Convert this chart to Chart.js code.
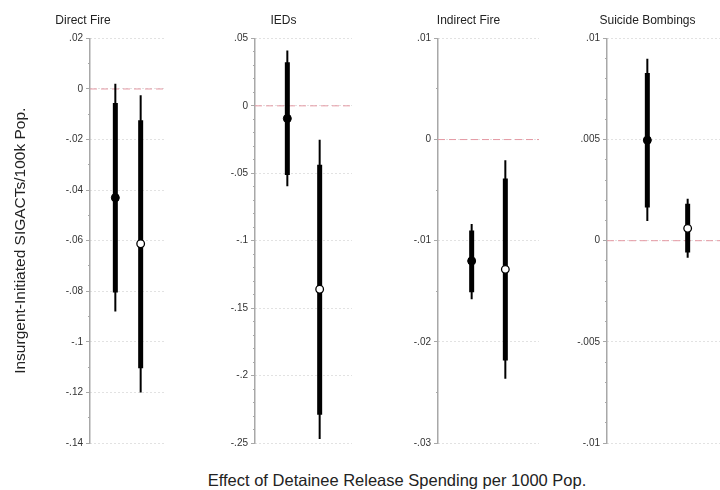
<!DOCTYPE html>
<html>
<head>
<meta charset="utf-8">
<script src="https://cdn.jsdelivr.net/npm/chart.js@4"></script>
<style>
html, body { margin: 0; padding: 0; width: 720px; height: 490px; overflow: hidden; background: #fff; }
canvas { position: absolute; top: 0; }
#xtitle { position: absolute; left: 0; width: 794px; top: 471px; text-align: center;
  font: 16.5px "Liberation Sans", Arial, sans-serif; color: #222; white-space: nowrap; }
</style>
</head>
<body>
<div id="xtitle">Effect of Detainee Release Spending per 1000 Pop.</div>
<script>
// values
const panels = ['Direct Fire', 'IEDs', 'Indirect Fire', 'Suicide Bombings'];
const estFilled = [-0.043, -0.0094, -0.0120, 0.00497];
const estHollow = [-0.0612, -0.136, -0.01283, 0.00061];
const ci90Filled = [[-0.0805, -0.0055], [-0.0513, 0.0323], [-0.0151, -0.0090], [0.00164, 0.00829]];
const ci95Filled = [[-0.088, 0.0021], [-0.0597, 0.041], [-0.0158, -0.00836], [0.00097, 0.0090]];
const ci90Hollow = [[-0.1104, -0.0124], [-0.229, -0.0437], [-0.02184, -0.00385], [-0.00058, 0.00183]];
const ci95Hollow = [[-0.120, -0.0025], [-0.247, -0.0252], [-0.02365, -0.00204], [-0.00084, 0.00207]];
const yMin = [-0.14, -0.25, -0.03, -0.01];
const yMax = [0.02, 0.05, 0.01, 0.01];
const majorStep = [0.02, 0.05, 0.01, 0.005];
const minorStep = [0.01, 0.01, 0.005, 0.001];

// layout
const plotLeft = [90, 255, 438, 607];
const plotRight = [166, 352, 539, 728];
const axisW = [90, 40, 40, 40];
const FONT = '"Liberation Sans", Arial, sans-serif';

function isMajor(v, i) {
  const r = v / majorStep[i];
  return Math.abs(r - Math.round(r)) < 1e-6;
}

function fmt(v) {
  let s = parseFloat(v.toFixed(6)).toString();
  if (s === '0' || s === '-0') return '0';
  return s.replace('0.', '.');
}

function seg(x, range, w) {
  return {
    data: [{x: x, y: range[0]}, {x: x, y: range[1]}],
    showLine: true, pointRadius: 0, borderColor: '#000', borderWidth: w,
    borderCapStyle: 'butt', order: 1
  };
}

for (let i = 0; i < panels.length; i++) {
  const cv = document.createElement('canvas');
  const left = plotLeft[i] - axisW[i];
  cv.width = plotRight[i] - left;
  cv.height = 490;
  cv.style.left = left + 'px';
  document.body.appendChild(cv);

  const datasets = [
    {data: [{x: 1, y: estFilled[i]}], pointRadius: 4, backgroundColor: '#000', borderColor: '#000', borderWidth: 1, order: 0},
    {data: [{x: 2, y: estHollow[i]}], pointRadius: 3.8, backgroundColor: '#fff', borderColor: '#000', borderWidth: 1.3, order: 0},
    seg(1, ci90Filled[i], 5),
    seg(1, ci95Filled[i], 2),
    seg(2, ci90Hollow[i], 5),
    seg(2, ci95Hollow[i], 2),
    {data: [{x: 0, y: 0}, {x: 3, y: 0}], showLine: true, pointRadius: 0,
      borderColor: '#e59aa4', borderWidth: 1, borderDash: [7, 4], order: 2}
  ];

  new Chart(cv.getContext('2d'), {
    type: 'scatter',
    data: {datasets: datasets},
    options: {
      responsive: false,
      animation: false,
      events: [],
      layout: {autoPadding: false, padding: {top: 13, bottom: 47, left: 0, right: 0}},
      plugins: {
        legend: {display: false},
        tooltip: {enabled: false},
        title: {display: true, text: panels[i], color: '#222',
          font: {size: 12, family: FONT, weight: 'normal'}, padding: {top: 0, bottom: 11}}
      },
      scales: {
        x: {type: 'linear', min: 0, max: 3, display: false},
        y: {
          min: yMin[i], max: yMax[i],
          afterFit: s => { s.width = axisW[i]; },
          ticks: {
            stepSize: minorStep[i], autoSkip: false, padding: 3, color: '#333',
            font: {size: 10, family: FONT},
            callback: v => isMajor(v, i) ? fmt(v) : ''
          },
          grid: {
            color: c => isMajor(c.tick.value, i) ? '#c4c4c4' : 'rgba(0,0,0,0)',
            lineWidth: 1, tickLength: 4, tickColor: '#a8a8a8', tickWidth: 1,
            tickBorderDash: c => isMajor(c.tick.value, i) ? [] : [2, 2],
            tickBorderDashOffset: c => isMajor(c.tick.value, i) ? 0 : 2
          },
          border: {color: '#a8a8a8', width: 1.5, dash: [1, 3]},
          title: {
            display: i === 0, text: 'Insurgent-Initiated SIGACTs/100k Pop.', color: '#222',
            font: {size: 15.5, family: FONT}, padding: {top: 11, bottom: 0}
          }
        }
      }
    }
  });
}
</script>
</body>
</html>
